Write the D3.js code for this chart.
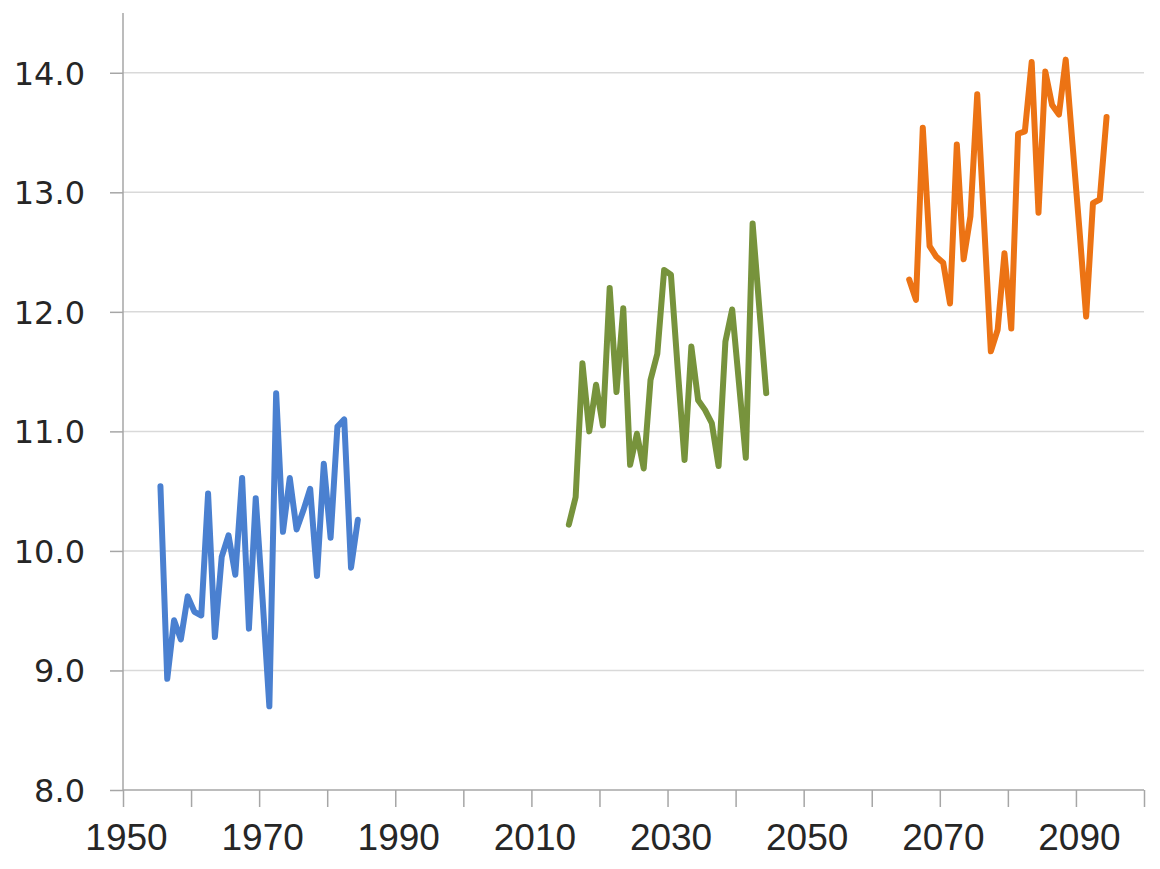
<!DOCTYPE html>
<html>
<head>
<meta charset="utf-8">
<script src="https://cdn.jsdelivr.net/npm/d3@7"></script>
<style>
  body { margin: 0; background: #fff; }
  svg { display: block; }
</style>
</head>
<body>
<svg id="chart" width="1160" height="869"></svg>
<script>
// values, one point per year (plotted mid-year)
const pastYears = d3.range(1955, 1985);
const pastValues = [10.54, 8.93, 9.42, 9.26, 9.62, 9.49, 9.46, 10.48, 9.28, 9.95,
                    10.13, 9.80, 10.61, 9.35, 10.44, 9.60, 8.70, 11.32, 10.16, 10.61,
                    10.18, 10.34, 10.52, 9.79, 10.73, 10.11, 11.04, 11.10, 9.86, 10.26];

const midYears = d3.range(2015, 2045);
const midValues = [10.22, 10.45, 11.57, 11.00, 11.39, 11.05, 12.20, 11.33, 12.03, 10.72,
                   10.98, 10.69, 11.43, 11.65, 12.35, 12.31, 11.52, 10.76, 11.71, 11.26,
                   11.18, 11.07, 10.71, 11.75, 12.02, 11.40, 10.78, 12.74, 12.02, 11.32];

const lateYears = d3.range(2065, 2095);
const lateValues = [12.27, 12.10, 13.54, 12.55, 12.46, 12.41, 12.07, 13.40, 12.44, 12.80,
                    13.82, 12.75, 11.67, 11.85, 12.49, 11.86, 13.49, 13.51, 14.09, 12.83,
                    14.01, 13.73, 13.65, 14.11, 13.40, 12.70, 11.96, 12.91, 12.94, 13.63];

const seriesColors = ["#4a80d0", "#77933c", "#ec7314"];

const yTicks = [8, 9, 10, 11, 12, 13, 14];
const xTicks = d3.range(1950, 2101, 10);
const xLabels = [1950, 1970, 1990, 2010, 2030, 2050, 2070, 2090];

const series = [
  {years: pastYears, values: pastValues, color: seriesColors[0]},
  {years: midYears, values: midValues, color: seriesColors[1]},
  {years: lateYears, values: lateValues, color: seriesColors[2]}
];

const svg = d3.select("#chart");

const x = d3.scaleLinear().domain([1950, 2100]).range([123, 1144]);
const y = d3.scaleLinear().domain([8, 14.5]).range([790, 13]);

// gridlines
svg.append("g")
   .selectAll("line")
   .data(yTicks.filter(d => d > 8))
   .enter()
   .append("line")
   .attr("x1", x(1950))
   .attr("x2", x(2100))
   .attr("y1", d => y(d))
   .attr("y2", d => y(d))
   .attr("stroke", "#d9d9d9")
   .attr("stroke-width", 1.5);

// y axis
let yAxis = svg.append("g")
   .attr("transform", `translate(${x(1950)},0)`)
   .call(d3.axisLeft(y).tickValues(yTicks).tickSize(13).tickFormat(d3.format(".1f")));
yAxis.select(".domain").attr("stroke", "#a6a6a6").attr("stroke-width", 1.5)
     .attr("d", `M0,${y(14.5)}V${y(8)}`);
yAxis.selectAll(".tick line").attr("stroke", "#a6a6a6").attr("stroke-width", 1.5);
yAxis.selectAll(".tick text")
     .attr("x", -38)
     .attr("dy", "0.36em")
     .attr("fill", "#262626")
     .style("font-family", "DejaVu Sans")
     .style("font-size", "32px");

// x axis
let xAxis = svg.append("g")
   .attr("transform", `translate(0,${y(8)})`)
   .call(d3.axisBottom(x).tickValues(xTicks).tickSize(17)
           .tickFormat(d => xLabels.includes(d) ? d : ""));
xAxis.select(".domain").attr("stroke", "#a6a6a6").attr("stroke-width", 1.5)
     .attr("d", `M${x(1950)},0H${x(2100)}`);
xAxis.selectAll(".tick text")
     .attr("y", 47)
     .attr("dy", "0.36em")
     .attr("dx", 3)
     .attr("fill", "#262626")
     .style("font-family", "Liberation Sans")
     .style("font-size", "37px");
xAxis.selectAll(".tick line").attr("stroke", "#a6a6a6").attr("stroke-width", 1.5);

// lines
let line = d3.line()
   .x(d => x(d[0] + 0.5))
   .y(d => y(d[1]));

svg.append("g")
   .selectAll("path")
   .data(series)
   .enter()
   .append("path")
   .attr("d", s => line(d3.zip(s.years, s.values)))
   .attr("fill", "none")
   .attr("stroke", s => s.color)
   .attr("stroke-width", 6)
   .attr("stroke-linejoin", "round")
   .attr("stroke-linecap", "round");
</script>
</body>
</html>
